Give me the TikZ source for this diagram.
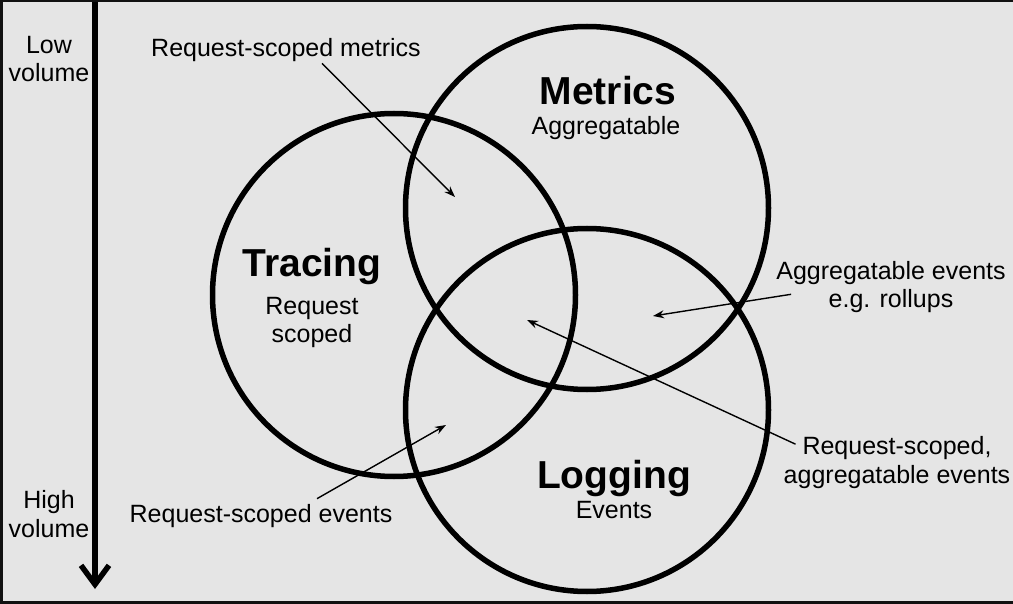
\documentclass[tikz,border=0pt]{standalone}
\usepackage{fontspec}
\setmainfont{Liberation Sans}
\usetikzlibrary{arrows.meta,positioning}
\definecolor{bgG}{HTML}{E5E5E5}
\definecolor{frameK}{HTML}{111111}

\begin{document}
\begin{tikzpicture}[x=1pt,y=-1pt,
  ring/.style={circle, draw=black, line width=5.5pt, minimum size=363pt, inner sep=0pt},
  lbl/.style={font=\fontsize{25}{28.5}\selectfont, inner sep=0pt, align=center, anchor=base},
  head/.style={font=\bfseries\fontsize{39}{40}\selectfont, inner sep=0pt, anchor=base},
  pointer/.style={-{Stealth[length=11pt,width=8pt]}, line width=1.4pt},
  volarrow/.style={-{Straight Barb[length=19pt,width=28pt]}, line width=5.5pt},
  ]

% === frame
\useasboundingbox (0,0) rectangle (1013,604);
\fill[frameK] (0,0) rectangle (1013,604);
\fill[bgG] (3,2) rectangle (1013,601);

% === volume axis
\coordinate (volTop) at (95,2);
\coordinate (volEnd) at (95,589);
\draw[volarrow] (volTop) -- (volEnd);
\node[lbl] (lowvol) at (49,82) {Low\\volume};
\node[lbl] (highvol) at (49,537) {High\\volume};

% === the three circles
\node[ring] (metrics) at (587,208) {};
\node[ring] (tracing) at (394,295) {};
\node[ring] (logging) at (587,410) {};

% === circle titles
\node[head] (metricsT) at (608,105) {Metrics};
\node[lbl] (metricsS) at (606,135) {Aggregatable};
\node[head] (tracingT) at (312,277) {Tracing};
\node[lbl] (tracingS) at (312,343) {Request\\scoped};
\node[head] (loggingT) at (614,488) {Logging};
\node[lbl] (loggingS) at (614,518) {Events};

% === overlap labels
\node[lbl] (rsm) at (286,57) {Request-scoped metrics};
\node[lbl] (agev) at (891,308) {Aggregatable events\\e.g. rollups};
\node[lbl] (rsa) at (897,483) {Request-scoped,\\aggregatable events};
\node[lbl] (rse) at (261,522) {Request-scoped events};

\coordinate (rsmTip) at (455,197);
\coordinate (agevTip) at (653,316);
\coordinate (rsaTip) at (527,320);
\coordinate (rseTip) at (446,425);

\draw[pointer] ([xshift=36pt,yshift=-1pt]rsm.south) -- (rsmTip);
\draw[pointer] ([xshift=15pt,yshift=-7pt]agev.west) -- (agevTip);
\draw[pointer] ([xshift=12pt,yshift=-8pt]rsa.north west) -- (rsaTip);
\draw[pointer] ([xshift=56pt,yshift=5pt]rse.north) -- (rseTip);

\end{tikzpicture}
\end{document}
